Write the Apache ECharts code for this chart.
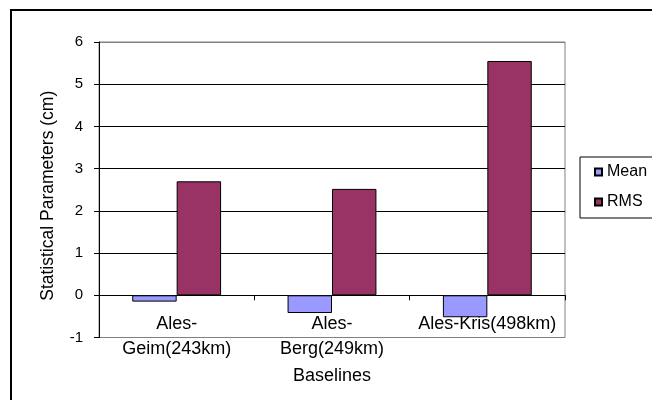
<!DOCTYPE html>
<html>
<head>
<meta charset="utf-8">
<script src="https://cdn.jsdelivr.net/npm/echarts@6/dist/echarts.min.js"></script>
<style>
  html, body { margin: 0; padding: 0; background: #fff; }
  #chart { width: 652px; height: 400px; }
</style>
</head>
<body>
<div id="chart"></div>
<script>
// Baseline statistics (cm)
const baselines = ['Ales-\nGeim(243km)', 'Ales-\nBerg(249km)', 'Ales-Kris(498km)'];
const meanValues = [-0.15, -0.42, -0.52];
const rmsValues = [2.70, 2.52, 5.55];
const yTicks = { min: -1, max: 6, step: 1 };

const FONT = '"Liberation Sans", Arial, sans-serif';
const chart = echarts.init(document.getElementById('chart'), null, { renderer: 'canvas' });

// first and last split lines form the grey plot frame, the rest are black
const splitColors = [];
for (let v = yTicks.min; v <= yTicks.max; v += yTicks.step) {
  splitColors.push(v === yTicks.min || v === yTicks.max ? '#808080' : '#000000');
}

chart.setOption({
  animation: false,
  backgroundColor: '#ffffff',
  textStyle: { fontFamily: FONT, color: '#000' },
  graphic: [{
    type: 'rect',
    shape: { x: 11, y: 10, width: 700, height: 500 },
    style: { fill: 'none', stroke: '#000', lineWidth: 2 },
    z: 100
  }],
  grid: {
    left: 99, top: 42, width: 466, height: 295.5,
    outerBoundsMode: 'none',
    containLabel: false,
    show: true, borderColor: '#808080', borderWidth: 1, backgroundColor: 'transparent'
  },
  legend: {
    orient: 'vertical',
    left: 580, top: 157,
    data: ['Mean', 'RMS'],
    icon: 'rect',
    itemWidth: 7, itemHeight: 7,
    itemGap: 14,
    itemTextGap: 6,
    padding: [7, 40, 8, 14],
    borderColor: '#000', borderWidth: 1,
    textStyle: { fontFamily: FONT, fontSize: 16, color: '#000' }
  },
  xAxis: {
    type: 'category',
    data: baselines,
    name: 'Baselines',
    nameLocation: 'middle',
    nameGap: 39,
    nameTextStyle: { fontFamily: FONT, fontSize: 18, color: '#000', verticalAlign: 'middle' },
    axisLine: { onZero: true, lineStyle: { color: '#000', width: 1 } },
    axisTick: { show: true, length: 5, lineStyle: { color: '#000' } },
    axisLabel: {
      fontFamily: FONT, fontSize: 18, color: '#000',
      margin: -26, lineHeight: 25, interval: 0
    },
    splitLine: { show: false }
  },
  yAxis: {
    type: 'value',
    min: yTicks.min, max: yTicks.max, interval: yTicks.step,
    name: 'Statistical Parameters (cm)',
    nameLocation: 'middle',
    nameGap: 51,
    nameTextStyle: {
      fontFamily: FONT, fontSize: 17.5, color: '#000', verticalAlign: 'middle',
      padding: [0, 12, 0, 0]
    },
    axisLine: { show: true, lineStyle: { color: '#000', width: 1 } },
    axisTick: { show: true, length: 5, lineStyle: { color: '#000' } },
    axisLabel: { fontFamily: FONT, fontSize: 15, color: '#000', margin: 16 },
    splitLine: { show: true, lineStyle: { color: splitColors, width: 1 } }
  },
  series: [
    {
      name: 'Mean', type: 'bar', data: meanValues,
      barGap: '0%', barCategoryGap: '42.8%',
      itemStyle: { color: '#9999FF', borderColor: '#000', borderWidth: 1 }
    },
    {
      name: 'RMS', type: 'bar', data: rmsValues,
      barGap: '0%', barCategoryGap: '42.8%',
      itemStyle: { color: '#993366', borderColor: '#000', borderWidth: 1 }
    }
  ]
});
</script>
</body>
</html>
